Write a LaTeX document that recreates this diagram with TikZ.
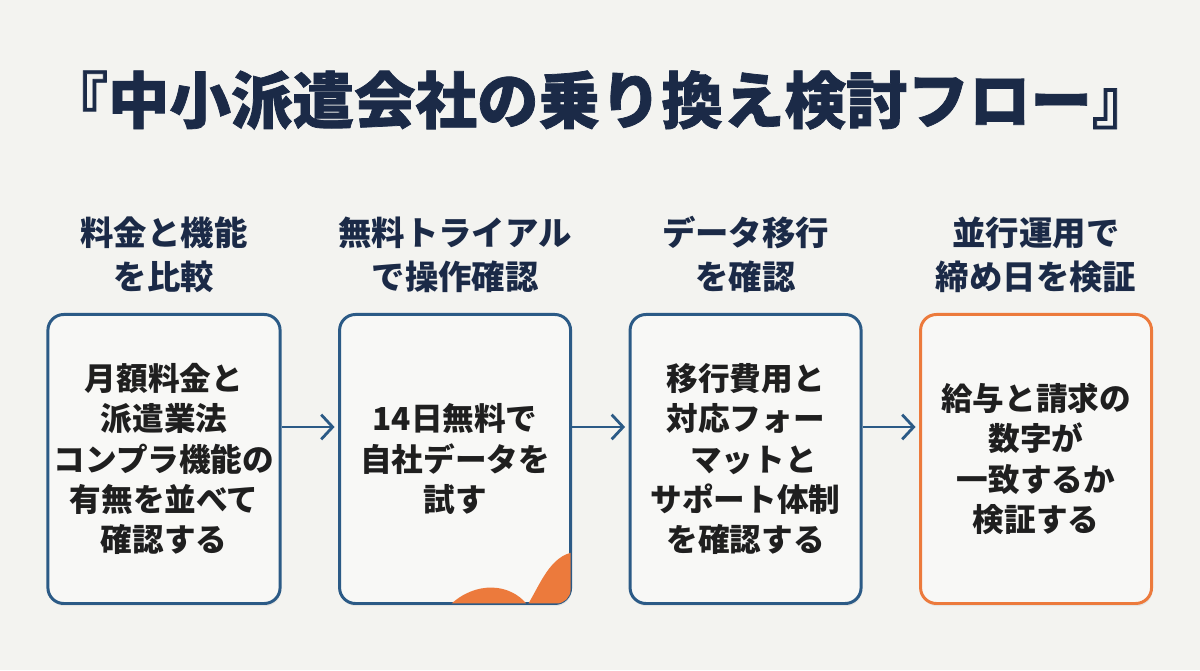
\documentclass[tikz,border=0pt]{standalone}
\usepackage{fontspec}
\setmainfont{Noto Sans CJK JP}
\newfontfamily\titlefont{Noto Sans CJK JP}[BoldFeatures={FakeBold=1.2}]
\usetikzlibrary{arrows.meta, positioning, shadows}
\definecolor{cNavy}{HTML}{1B2A47}
\definecolor{cBlue}{HTML}{2B5A86}
\definecolor{cOrange}{HTML}{EC7A3C}
\definecolor{cBack}{HTML}{F3F3F0}
\definecolor{cFill}{HTML}{F8F8F6}

\begin{document}
\begin{tikzpicture}[
  node distance=0.4cm and 1.13cm,
  card/.style={rectangle, rounded corners=9pt, draw=cBlue, line width=1.7pt, fill=cFill,
               minimum width=4.62cm, minimum height=5.78cm, align=center,
               font=\fontsize{18}{23}\selectfont\bfseries, text=black!88,
               drop shadow={opacity=0.12, shadow xshift=0.5pt, shadow yshift=-1.5pt}},
  lastcard/.style={card, draw=cOrange},
  head/.style={align=center, inner sep=0pt, text=cNavy, font=\fontsize{19}{25}\selectfont\bfseries},
  arr/.style={-{Straight Barb[length=6.5pt, width=14pt]}, line width=1.6pt, color=cBlue, shorten >=2pt},
]
\fill[cBack] (0,0) rectangle (24,13.4);
\useasboundingbox (0,0) rectangle (24,13.4);
\node[font=\titlefont\fontsize{35}{38}\selectfont\bfseries, text=cNavy] (title) at (12,11.4)
  {『中小派遣会社の乗り換え検討フロー』};
\node[card] (c1) at (3.28,4.22) {月額料金と\\派遣業法\\コンプラ機能の\\有無を並べて\\確認する};
\node[card, right=of c1] (c2) {14日無料で\\自社データを\\試す};
\node[card, right=of c2] (c3) {移行費用と\\対応フォー\\\hspace*{0.5em}マットと\\サポート体制\\を確認する};
\node[lastcard, right=of c3] (c4) {給与と請求の\\数字が\\一致するか\\検証する};
\node[head, above=of c1] (h1) {料金と機能\\を比較};
\node[head, above=of c2] (h2) {無料トライアル\\で操作確認};
\node[head, above=of c3] (h3) {データ移行\\を確認};
\node[head, above=of c4] (h4) {並行運用で\\締め日を検証};
\draw[arr] ([yshift=0.64cm]c1.east) -- ([yshift=0.64cm]c2.west);
\draw[arr] ([yshift=0.64cm]c2.east) -- ([yshift=0.64cm]c3.west);
\draw[arr] ([yshift=0.64cm]c3.east) -- ([yshift=0.64cm]c4.west);
% orange blob in the second card
\begin{scope}
  \clip[rounded corners=8pt] ([shift={(0.85pt,0.85pt)}]c2.south west) rectangle ([shift={(-0.85pt,-0.85pt)}]c2.north east);
  \fill[cOrange] (9.0,1.3) .. controls (9.5,1.78) and (10.2,1.75) .. (10.55,1.3)
    .. controls (10.8,1.7) and (11.0,2.3) .. (11.5,2.36) -- (11.5,1.3) -- cycle;
\end{scope}
\end{tikzpicture}
\end{document}
